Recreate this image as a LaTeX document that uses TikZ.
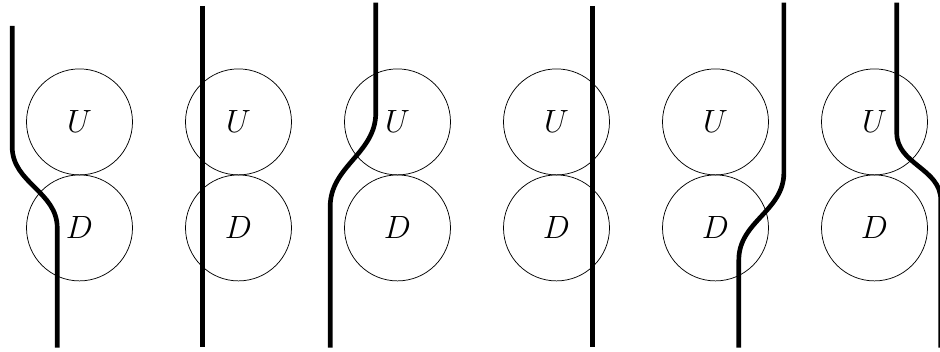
\documentclass[tikz,border=0pt]{standalone}
\usepackage{tikz}
\usetikzlibrary{positioning}

\begin{document}
\begin{tikzpicture}[node distance=1cm, every node/.style={align=center},
  cell/.style={circle,draw,minimum size=2cm,inner sep=0pt,outer sep=0pt,font=\LARGE},
  strand/.style={line width=2.5pt}]
  \useasboundingbox (-1.5,-4.34) rectangle (16.236,2.30);
  \node[cell] (u1) at (0,0) {$U$};
  \node[cell,below=0cm of u1] (d1) {$D$};
  \node[cell,right=of u1] (u2) {$U$};
  \node[cell,below=0cm of u2] (d2) {$D$};
  \node[cell,right=of u2] (u3) {$U$};
  \node[cell,below=0cm of u3] (d3) {$D$};
  \node[cell,right=of u3] (u4) {$U$};
  \node[cell,below=0cm of u4] (d4) {$D$};
  \node[cell,right=of u4] (u5) {$U$};
  \node[cell,below=0cm of u5] (d5) {$D$};
  \node[cell,right=of u5] (u6) {$U$};
  \node[cell,below=0cm of u6] (d6) {$D$};
  \draw[strand] (-1.27,1.81) -- (-1.27,-0.47) to[out=-90,in=90] (-0.42,-2) -- (-0.42,-4.26);
  \draw[strand] (2.32,2.19) -- (2.32,-4.25);
  \draw[strand] (5.59,2.25) -- (5.59,0.17) to[out=-90,in=90] (4.73,-1.6) -- (4.73,-4.26);
  \draw[strand] (9.68,2.19) -- (9.68,-4.25);
  \draw[strand] (13.29,2.25) -- (13.29,-0.96) to[out=-90,in=90] (12.44,-2.6) -- (12.44,-4.26);
  \draw[strand] (15.42,2.25) -- (15.42,-0.21) to[out=-90,in=90] (16.25,-1.47) -- (16.25,-4.26);
\end{tikzpicture}
\end{document}
